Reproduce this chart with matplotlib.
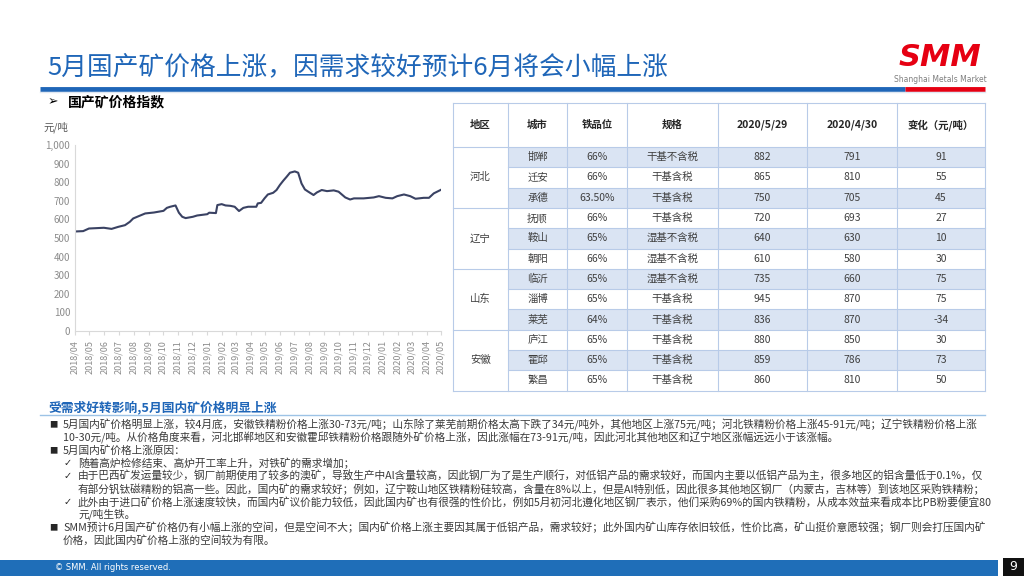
import pandas as pd
import matplotlib.pyplot as plt
import matplotlib.dates as mdates
from matplotlib.patches import Rectangle
from matplotlib.ticker import FuncFormatter, MultipleLocator

plt.rcParams['font.family'] = ['Noto Sans CJK SC', 'DejaVu Sans']

# price index line
dates = ["2018-04-01", "2018-04-18", "2018-04-30", "2018-05-31", "2018-06-16", "2018-06-30",
         "2018-07-14", "2018-07-24", "2018-07-31", "2018-08-11", "2018-08-25", "2018-09-12",
         "2018-10-02", "2018-10-09", "2018-10-16", "2018-10-27", "2018-11-03", "2018-11-10",
         "2018-11-17", "2018-12-02", "2018-12-11", "2019-01-01", "2019-01-05", "2019-01-19",
         "2019-01-22", "2019-01-31", "2019-02-08", "2019-02-18", "2019-02-27", "2019-03-08",
         "2019-03-17", "2019-03-27", "2019-04-13", "2019-04-16", "2019-04-23", "2019-04-30",
         "2019-05-07", "2019-05-18", "2019-05-25", "2019-06-01", "2019-06-08", "2019-06-15",
         "2019-06-22", "2019-07-02", "2019-07-09", "2019-07-16", "2019-07-23", "2019-07-30",
         "2019-08-10", "2019-08-17", "2019-08-27", "2019-09-07", "2019-09-21", "2019-10-01",
         "2019-10-15", "2019-10-25", "2019-11-02", "2019-11-22", "2019-12-13", "2019-12-24",
         "2020-01-07", "2020-01-21", "2020-01-31", "2020-02-14", "2020-02-27", "2020-03-09",
         "2020-03-26", "2020-04-06", "2020-04-16", "2020-04-30"]
prices = [535, 537, 551, 555, 549, 560,
          569, 587, 605, 617, 632, 637,
          646, 662, 668, 675, 636, 614,
          607, 614, 621, 628, 636, 634,
          677, 682, 675, 673, 668, 645,
          662, 668, 668, 686, 689, 713,
          734, 743, 758, 785, 808, 829,
          851, 858, 851, 793, 761, 749,
          731, 745, 758, 752, 756, 749,
          718, 707, 713, 713, 718, 725,
          716, 713, 725, 734, 725, 711,
          716, 716, 740, 758]

# table
header = ["地区", "城市", "铁品位", "规格", "2020/5/29", "2020/4/30", "变化（元/吨）"]
regions = ["河北", "辽宁", "山东", "安徽"]
cities = ["邯郸", "迁安", "承德", "抚顺", "鞍山", "朝阳", "临沂", "淄博", "莱芜", "庐江", "霍邱", "繁昌"]
grades = ["66%", "66%", "63.50%", "66%", "65%", "66%", "65%", "65%", "64%", "65%", "65%", "65%"]
specs = ["干基不含税", "干基含税", "干基含税", "干基含税", "湿基不含税", "湿基不含税",
         "湿基不含税", "干基含税", "干基含税", "干基含税", "干基含税", "干基含税"]
price_0529 = [882, 865, 750, 720, 640, 610, 735, 945, 836, 880, 859, 860]
price_0430 = [791, 810, 705, 693, 630, 580, 660, 870, 870, 850, 786, 810]
change = [91, 55, 45, 27, 10, 30, 75, 75, -34, 30, 73, 50]

title = "5月国产矿价格上涨，因需求较好预计6月将会小幅上涨"
sub_title = "国产矿价格指数"
section = "受需求好转影响,5月国内矿价格明显上涨"
body = [
    ("■", 0, "5月国内矿价格明显上涨，较4月底，安徽铁精粉价格上涨30-73元/吨；山东除了莱芜前期价格太高下跌了34元/吨外，其他地区上涨75元/吨；河北铁精粉价格上涨45-91元/吨；辽宁铁精粉价格上涨"),
    ("", 0, "10-30元/吨。从价格角度来看，河北邯郸地区和安徽霍邱铁精粉价格跟随外矿价格上涨，因此涨幅在73-91元/吨，因此河北其他地区和辽宁地区涨幅远远小于该涨幅。"),
    ("■", 0, "5月国内矿价格上涨原因："),
    ("✓", 1, "随着高炉检修结束、高炉开工率上升，对铁矿的需求增加；"),
    ("✓", 1, "由于巴西矿发运量较少，钢厂前期使用了较多的澳矿，导致生产中Al含量较高，因此钢厂为了是生产顺行，对低铝产品的需求较好，而国内主要以低铝产品为主，很多地区的铝含量低于0.1%，仅"),
    ("", 1, "有部分钒钛磁精粉的铝高一些。因此，国内矿的需求较好；例如，辽宁鞍山地区铁精粉硅较高，含量在8%以上，但是Al特别低，因此很多其他地区钢厂（内蒙古，吉林等）到该地区采购铁精粉；"),
    ("✓", 1, "此外由于进口矿价格上涨速度较快，而国内矿议价能力较低，因此国内矿也有很强的性价比，例如5月初河北遵化地区钢厂表示，他们采购69%的国内铁精粉，从成本效益来看成本比PB粉要便宜80"),
    ("", 1, "元/吨生铁。"),
    ("■", 0, "SMM预计6月国产矿价格仍有小幅上涨的空间，但是空间不大；国内矿价格上涨主要因其属于低铝产品，需求较好；此外国内矿山库存依旧较低，性价比高，矿山挺价意愿较强；钢厂则会打压国内矿"),
    ("", 0, "价格，因此国内矿价格上涨的空间较为有限。"),
]

blue = "#1f66b8"
fig = plt.figure(figsize=(10.24, 5.76), dpi=100)

# slide canvas in pixel coordinates
bg = fig.add_axes([0, 0, 1, 1])
bg.set_xlim(0, 1024)
bg.set_ylim(576, 0)
bg.axis("off")

bg.text(47, 68, title, fontsize=18.5, color=blue, fontweight="medium", va="center", ha="left")
bg.plot([40, 905], [89, 89], color=blue, lw=3.5, solid_capstyle="butt")
bg.plot([905, 985], [89, 89], color="#e60012", lw=3.5, solid_capstyle="butt")
bg.plot([40, 985], [92, 92], color="#dfe7f2", lw=1)
bg.text(940, 57, "SMM", fontsize=22, color="#e60012", fontweight="bold", fontstyle="italic",
        family="DejaVu Sans", ha="center", va="center")
bg.text(940, 80, "Shanghai Metals Market", fontsize=5.5, color="#7f7f7f", ha="center", va="center",
        family="DejaVu Sans")

bg.text(48, 102, "➢", fontsize=9, family=["DejaVu Sans"], va="center")
bg.text(68, 102, sub_title, fontsize=10, fontweight="bold", va="center")
bg.text(43, 127, "元/吨", fontsize=7.5, color="#595959", fontstyle="italic", va="center")

# table drawing
col_x = [453, 508, 567, 627, 718, 807, 897, 985]
top, head_h, row_h = 103, 44, 20.3
grid = "#b8cbe8"
for i in range(len(cities)):
    y0 = top + head_h + i * row_h
    if i % 2 == 0:
        bg.add_patch(Rectangle((col_x[1], y0), col_x[-1] - col_x[1], row_h, color="#dae4f3", lw=0))
    bg.plot([col_x[1], col_x[-1]], [y0, y0], color=grid, lw=0.8)
    vals = [cities[i], grades[i], specs[i], price_0529[i], price_0430[i], change[i]]
    for j, v in enumerate(vals):
        cx = (col_x[j + 1] + col_x[j + 2]) / 2
        bg.text(cx, y0 + row_h / 2, str(v), fontsize=7.5, color="#404040", ha="center", va="center")
bottom = top + head_h + len(cities) * row_h
for g, reg in enumerate(regions):
    y0 = top + head_h + g * 3 * row_h
    bg.plot([col_x[0], col_x[1]], [y0, y0], color=grid, lw=0.8)
    bg.text((col_x[0] + col_x[1]) / 2, y0 + 1.5 * row_h, reg, fontsize=7.5, color="#404040",
            ha="center", va="center")
for j, h in enumerate(header):
    bg.text((col_x[j] + col_x[j + 1]) / 2, top + head_h / 2, h, fontsize=7.5, fontweight="bold",
            ha="center", va="center", color="#262626")
bg.plot([col_x[0], col_x[-1]], [top, top], color=grid, lw=0.8)
bg.plot([col_x[0], col_x[-1]], [bottom, bottom], color=grid, lw=0.8)
for x in col_x:
    bg.plot([x, x], [top, bottom], color=grid, lw=0.8)

# commentary
bg.text(48, 407, section, fontsize=9.2, fontweight="bold", color=blue, va="center")
bg.plot([40, 985], [415, 415], color="#9dc3e6", lw=1)
for k, (mark, level, line) in enumerate(body):
    y = 425 + k * 12.8
    if mark == "■":
        bg.text(49, y, mark, fontsize=6, color="#262626", va="center")
    elif mark:
        bg.text(64, y, mark, fontsize=7, color="#262626", va="center", family=["DejaVu Sans"])
    bg.text(63 if level == 0 else 78, y, line, fontsize=7.7, color="#3a3a3a", va="center")

# footer
bg.add_patch(Rectangle((0, 560), 998, 16, color="#1f6eb8", lw=0))
bg.add_patch(Rectangle((1003, 558), 21, 18, color="#111111", lw=0))
bg.text(55, 568, "© SMM. All rights reserved.", fontsize=6, color="white", va="center",
        family="DejaVu Sans")
bg.text(1013, 567, "9", fontsize=9, color="white", va="center", ha="center", family="DejaVu Sans")

# price line chart
ax = fig.add_axes([75 / 1024, 1 - 331 / 576, (441 - 75) / 1024, (331 - 145) / 576])
ax.plot(pd.to_datetime(dates), prices, color="#3a4263", lw=1.5)
ax.set_ylim(0, 1000)
ax.set_xlim(pd.Timestamp("2018-04-01"), pd.Timestamp("2020-05-01"))
ax.yaxis.set_major_locator(MultipleLocator(100))
ax.yaxis.set_major_formatter(FuncFormatter(lambda v, p: f"{v:,.0f}"))
ax.xaxis.set_major_locator(mdates.MonthLocator())
ax.xaxis.set_major_formatter(mdates.DateFormatter("%Y/%m"))
ax.tick_params(axis="x", labelrotation=90, labelsize=6.5, labelcolor="#8c8c8c", length=3, color="#d9d9d9")
ax.tick_params(axis="y", labelsize=7, labelcolor="#8c8c8c", length=0)
for s in ["top", "right"]:
    ax.spines[s].set_visible(False)
for s in ["left", "bottom"]:
    ax.spines[s].set_color("#d9d9d9")
ax.patch.set_alpha(0)

plt.savefig("out.png", dpi=100)
